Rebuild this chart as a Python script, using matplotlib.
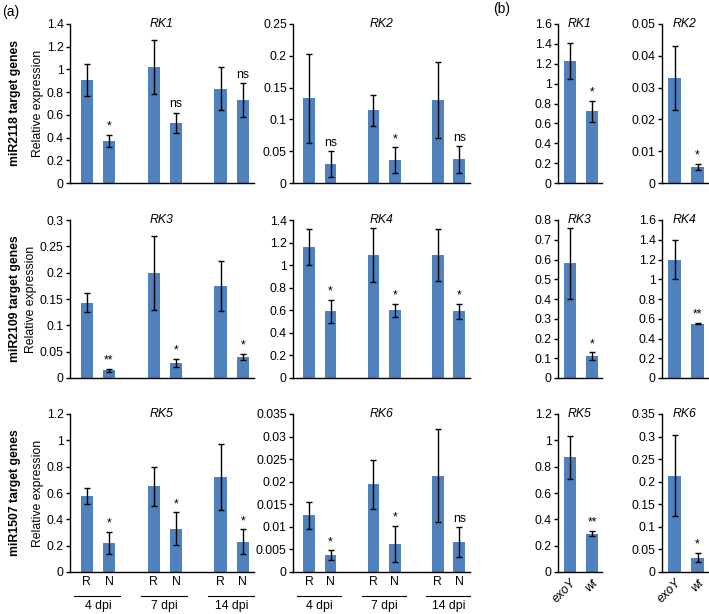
import matplotlib
matplotlib.use("Agg")
import matplotlib.pyplot as plt
import matplotlib.transforms as mtransforms
import numpy as np

# panel (a): R / N at 4, 7, 14 dpi -> order R4, N4, R7, N7, R14, N14
GENES_A = ["RK1", "RK2", "RK3", "RK4", "RK5", "RK6"]
MEANS_A = {
    "RK1": [0.91, 0.37, 1.02, 0.53, 0.83, 0.73],
    "RK2": [0.133, 0.03, 0.114, 0.036, 0.131, 0.037],
    "RK3": [0.143, 0.015, 0.2, 0.028, 0.175, 0.04],
    "RK4": [1.16, 0.59, 1.09, 0.6, 1.09, 0.59],
    "RK5": [0.58, 0.22, 0.65, 0.33, 0.72, 0.23],
    "RK6": [0.0126, 0.0037, 0.0194, 0.0062, 0.0213, 0.0066],
}
ERRS_A = {
    "RK1": [0.14, 0.05, 0.24, 0.09, 0.19, 0.15],
    "RK2": [0.07, 0.02, 0.025, 0.02, 0.06, 0.021],
    "RK3": [0.018, 0.003, 0.07, 0.008, 0.047, 0.006],
    "RK4": [0.16, 0.105, 0.235, 0.06, 0.23, 0.065],
    "RK5": [0.06, 0.083, 0.147, 0.123, 0.25, 0.093],
    "RK6": [0.003, 0.0011, 0.0054, 0.004, 0.0103, 0.0033],
}
SIG_A = {
    "RK1": ["", "*", "", "ns", "", "ns"],
    "RK2": ["", "ns", "", "*", "", "ns"],
    "RK3": ["", "**", "", "*", "", "*"],
    "RK4": ["", "*", "", "*", "", "*"],
    "RK5": ["", "*", "", "*", "", "*"],
    "RK6": ["", "*", "", "*", "", "ns"],
}
YMAX_A = {"RK1": (1.4, 0.2), "RK2": (0.25, 0.05), "RK3": (0.3, 0.05),
          "RK4": (1.4, 0.2), "RK5": (1.2, 0.2), "RK6": (0.035, 0.005)}
BAR_LABELS_A = ["R", "N", "R", "N", "R", "N"]
DPI_LABELS = ["4 dpi", "7 dpi", "14 dpi"]

# panel (b): exoY vs wt
MEANS_B = {"RK1": [1.23, 0.72], "RK2": [0.033, 0.005], "RK3": [0.58, 0.11],
           "RK4": [1.2, 0.55], "RK5": [0.87, 0.29], "RK6": [0.213, 0.032]}
ERRS_B = {"RK1": [0.18, 0.11], "RK2": [0.01, 0.001], "RK3": [0.18, 0.02],
          "RK4": [0.2, 0.006], "RK5": [0.16, 0.02], "RK6": [0.09, 0.01]}
SIG_B = {"RK1": ["", "*"], "RK2": ["", "*"], "RK3": ["", "*"],
         "RK4": ["", "**"], "RK5": ["", "**"], "RK6": ["", "*"]}
YMAX_B = {"RK1": (1.6, 0.2), "RK2": (0.05, 0.01), "RK3": (0.8, 0.1),
          "RK4": (1.6, 0.2), "RK5": (1.2, 0.2), "RK6": (0.35, 0.05)}
BAR_LABELS_B = ["exoY", "wt"]

ROW_LABELS = ["miR2118 target genes", "miR2109 target genes", "miR1507 target genes"]

BAR_COLOR = "#4f81bd"
FS = 8.8
W, H = 709, 614

fig = plt.figure(figsize=(W / 100, H / 100), dpi=100)
plt.rcParams["font.family"] = ["Liberation Sans", "DejaVu Sans"]


def add_axes_px(x0, x1, ytop, ybot):
    return fig.add_axes([x0 / W, 1 - ybot / H, (x1 - x0) / W, (ybot - ytop) / H])


def style_axis(ax, ymax, step, title):
    ax.set_ylim(0, ymax)
    ax.set_yticks(np.arange(0, ymax + step / 2, step))
    ax.yaxis.set_major_formatter(plt.FormatStrFormatter("%g"))
    ax.spines["top"].set_visible(False)
    ax.spines["right"].set_visible(False)
    ax.spines["left"].set_linewidth(1.0)
    ax.spines["bottom"].set_linewidth(1.0)
    ax.tick_params(axis="y", labelsize=FS, length=3, width=1.0, pad=1.5)
    ax.tick_params(axis="x", length=0, labelsize=FS)
    ax.text(0.5, 1.0, title, transform=ax.transAxes, ha="center", va="center",
            style="italic", fontsize=FS)


def draw_bars(ax, x, means, errs, sig, ymax):
    ax.bar(x, means, width=0.55, color=BAR_COLOR, zorder=2)
    ax.errorbar(x, means, yerr=errs, fmt="none", ecolor="black", elinewidth=1.0,
                capsize=2.5, capthick=1.0, zorder=3)
    for xi, m, e, s in zip(x, means, errs, sig):
        if s:
            ax.text(xi, m + e + ymax * 0.015, s, ha="center", va="bottom", fontsize=FS)


rows = [(24, 183), (220, 378), (414, 572)]
cols_a = [(70, 254), (293, 470)]
cols_b = [(558, 602), (662, 708)]
x_a = np.array([0, 1, 3, 4, 6, 7])
x_b = np.array([0, 1])

for r, (ytop, ybot) in enumerate(rows):
    for c in range(2):
        gene = GENES_A[2 * r + c]
        ax = add_axes_px(cols_a[c][0], cols_a[c][1], ytop, ybot)
        ymax, step = YMAX_A[gene]
        draw_bars(ax, x_a, MEANS_A[gene], ERRS_A[gene], SIG_A[gene], ymax)
        ax.set_xlim(-0.75, 7.5)
        style_axis(ax, ymax, step, gene)
        if r == 2:
            ax.set_xticks(x_a)
            ax.set_xticklabels(BAR_LABELS_A)
            ax.tick_params(axis="x", pad=3)
            trans = mtransforms.blended_transform_factory(ax.transData, ax.transAxes)
            for g, lab in enumerate(DPI_LABELS):
                xs = x_a[2 * g]
                ax.plot([xs - 0.55, xs + 1.5], [-0.152, -0.152], color="black", lw=0.8,
                        transform=trans, clip_on=False)
                ax.text(xs + 0.5, -0.18, lab, transform=trans, ha="center", va="top",
                        fontsize=FS)
        else:
            ax.set_xticks([])
        if c == 0:
            ax.set_ylabel("Relative expression", fontsize=FS, labelpad=2)

        axb = add_axes_px(cols_b[c][0], cols_b[c][1], ytop, ybot)
        ymax, step = YMAX_B[gene]
        draw_bars(axb, x_b, MEANS_B[gene], ERRS_B[gene], SIG_B[gene], ymax)
        axb.set_xlim(-0.55, 1.45)
        style_axis(axb, ymax, step, gene)
        if r == 2:
            axb.set_xticks(x_b)
            axb.set_xticklabels(BAR_LABELS_B, rotation=45, ha="right",
                                rotation_mode="anchor", style="italic")
        else:
            axb.set_xticks([])

    fig.text(15 / W, 1 - (ytop + ybot) / 2 / H, ROW_LABELS[r], rotation=90,
             ha="center", va="center", fontsize=FS, fontweight="bold")

fig.text(2 / W, 1 - 12 / H, "(a)", fontsize=10, ha="left", va="center")
fig.text(493 / W, 1 - 9 / H, "(b)", fontsize=10, ha="left", va="center")

fig.savefig("out.png", dpi=100)
